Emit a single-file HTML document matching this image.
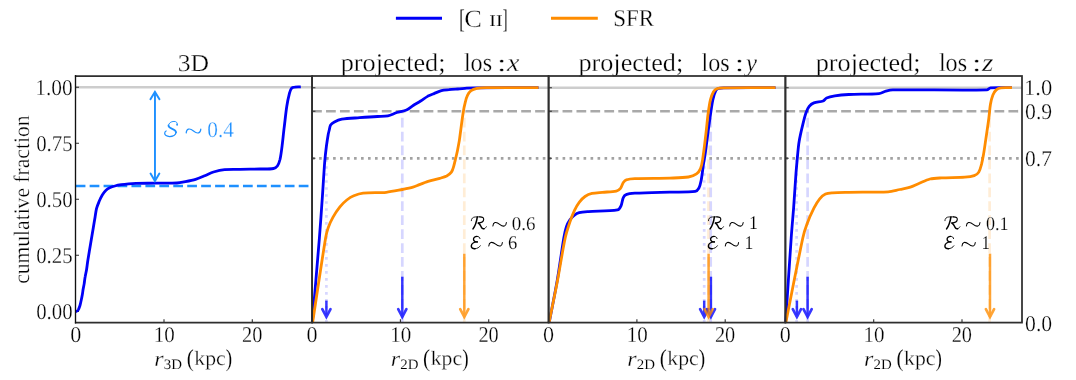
<!DOCTYPE html>
<html><head><meta charset="utf-8"><title>cumulative fraction</title>
<style>html,body{margin:0;padding:0;background:#fff}body{width:1076px;height:380px;overflow:hidden;font-family:"Liberation Serif",serif}</style></head>
<body>
<svg width="1076" height="380" viewBox="0 0 1076 380" style="display:block;will-change:transform">
<rect width="1076" height="380" fill="#fff"/>
<line x1="75.7" x2="312.1" y1="87.2" y2="87.2" stroke="#cdcdcd" stroke-width="2.6"/>
<line x1="312.1" x2="1022.0" y1="87.74" y2="87.74" stroke="#cdcdcd" stroke-width="2.6"/>
<line x1="312.1" x2="548.6" y1="111.25" y2="111.25" stroke="#a9a9a9" stroke-width="2.7" stroke-dasharray="9.73 4.21"/>
<line x1="312.1" x2="548.6" y1="158.3" y2="158.3" stroke="#a2a2a2" stroke-width="2.8" stroke-dasharray="2.63 4.36"/>
<line x1="548.6" x2="785.4" y1="111.25" y2="111.25" stroke="#a9a9a9" stroke-width="2.7" stroke-dasharray="9.73 4.21"/>
<line x1="548.6" x2="785.4" y1="158.3" y2="158.3" stroke="#a2a2a2" stroke-width="2.8" stroke-dasharray="2.63 4.36"/>
<line x1="785.4" x2="1022.0" y1="111.25" y2="111.25" stroke="#a9a9a9" stroke-width="2.7" stroke-dasharray="9.73 4.21"/>
<line x1="785.4" x2="1022.0" y1="158.3" y2="158.3" stroke="#a2a2a2" stroke-width="2.8" stroke-dasharray="2.63 4.36"/>
<line x1="75.7" x2="312.1" y1="186.0" y2="186.0" stroke="#1e90ff" stroke-width="2.7" stroke-dasharray="9.73 4.21"/>
<line x1="326.4" x2="326.4" y1="322.6" y2="158.3" stroke="#0000ff" stroke-opacity="0.16" stroke-width="2.7" stroke-dasharray="2.63 4.36"/>
<line x1="402.3" x2="402.3" y1="322.6" y2="111.2" stroke="#0000ff" stroke-opacity="0.16" stroke-width="2.7" stroke-dasharray="9.73 4.21"/>
<line x1="464.3" x2="464.3" y1="322.6" y2="111.2" stroke="#ff8c00" stroke-opacity="0.16" stroke-width="2.7" stroke-dasharray="9.73 4.21"/>
<line x1="704.2" x2="704.2" y1="322.6" y2="158.3" stroke="#0000ff" stroke-opacity="0.16" stroke-width="2.7" stroke-dasharray="2.63 4.36"/>
<line x1="710.7" x2="710.7" y1="322.6" y2="111.2" stroke="#0000ff" stroke-opacity="0.16" stroke-width="2.7" stroke-dasharray="9.73 4.21"/>
<line x1="708.5" x2="708.5" y1="322.6" y2="111.2" stroke="#ff8c00" stroke-opacity="0.16" stroke-width="2.7" stroke-dasharray="9.73 4.21"/>
<line x1="796.6" x2="796.6" y1="322.6" y2="158.3" stroke="#0000ff" stroke-opacity="0.16" stroke-width="2.7" stroke-dasharray="2.63 4.36"/>
<line x1="807.6" x2="807.6" y1="322.6" y2="111.2" stroke="#0000ff" stroke-opacity="0.16" stroke-width="2.7" stroke-dasharray="9.73 4.21"/>
<line x1="989.6" x2="989.6" y1="322.6" y2="111.2" stroke="#ff8c00" stroke-opacity="0.16" stroke-width="2.7" stroke-dasharray="9.73 4.21"/>
<path d="M75.7,311.4 h3.3 M75.7,255.3 h3.3 M75.7,199.3 h3.3 M75.7,143.2 h3.3 M75.7,87.2 h3.3 M312.1,87.7 h3.3 M312.1,111.2 h3.3 M312.1,158.2 h3.3 M548.6,87.7 h3.3 M548.6,111.2 h3.3 M548.6,158.2 h3.3 M785.4,87.7 h3.3 M785.4,111.2 h3.3 M785.4,158.2 h3.3 M164.0,322.6 v-3.3 M252.3,322.6 v-3.3 M400.4,322.6 v-3.3 M488.7,322.6 v-3.3 M636.9,322.6 v-3.3 M725.2,322.6 v-3.3 M873.7,322.6 v-3.3 M962.0,322.6 v-3.3" stroke="#2e2e2e" stroke-width="1.1" fill="none"/>
<path d="M75.7,311.6 C76.2,311.4 76.8,311.3 77.2,311.0 C77.6,310.7 78.1,310.1 78.4,309.6 C79.0,308.5 79.5,307.0 79.9,305.8 C80.4,304.2 80.8,302.0 81.2,300.3 C81.6,298.7 82.0,296.5 82.3,294.8 C82.6,293.4 82.8,291.4 83.0,290.0 C83.3,288.1 83.9,285.5 84.2,283.6 C84.5,281.5 84.8,278.6 85.2,276.5 C85.5,274.5 86.2,272.0 86.5,270.0 C87.0,267.0 87.4,262.9 87.9,259.9 C88.7,255.1 89.8,248.6 90.6,243.8 C91.4,239.0 92.5,232.5 93.3,227.7 C93.8,224.5 94.6,220.1 95.1,216.9 C95.5,214.4 95.9,211.0 96.5,208.6 C97.1,206.3 98.3,203.5 99.2,201.3 C100.0,199.3 101.2,196.7 102.3,194.9 C103.2,193.4 104.7,191.4 106.0,190.2 C107.0,189.3 108.5,188.4 109.7,187.8 C111.2,187.1 113.3,186.4 114.9,186.0 C116.8,185.5 119.4,185.0 121.3,184.7 C123.5,184.4 126.4,184.1 128.6,183.9 C130.8,183.7 133.8,183.5 136.0,183.4 C141.8,183.2 149.6,183.3 155.5,183.2 C161.9,183.1 170.5,183.3 176.9,183.0 C179.5,182.9 182.9,182.1 185.4,181.6 C188.5,181.0 192.6,180.2 195.6,179.3 C198.4,178.5 202.0,176.9 204.7,175.8 C207.4,174.7 210.8,172.9 213.5,172.0 C216.8,171.0 221.2,169.9 224.6,169.6 C229.2,169.1 235.4,169.4 240.0,169.3 C246.0,169.2 254.0,169.1 260.0,169.0 C264.1,168.9 269.5,169.2 273.5,168.5 C274.9,168.3 276.6,167.1 277.4,166.0 C278.6,164.3 279.5,161.5 280.0,159.5 C280.9,155.5 281.6,149.9 282.1,145.8 C282.8,140.3 283.5,132.9 284.2,127.4 C285.0,121.1 285.8,112.6 286.8,106.3 C287.4,102.3 288.5,97.1 289.5,93.2 C289.9,91.6 290.5,89.4 291.6,88.2 C292.2,87.4 293.7,87.2 294.7,87.1 C296.5,86.8 299.0,87.0 300.8,86.9" fill="none" stroke="#0000f8" stroke-width="2.8" stroke-linejoin="round" stroke-linecap="butt"/>
<path d="M312.3,322.6 C314.4,297.2 317.4,263.4 319.4,238.0 C320.4,225.6 321.5,209.0 322.4,196.5 C323.1,186.2 323.9,172.3 324.7,162.0 C325.1,157.3 325.8,151.0 326.4,146.3 C326.9,142.7 327.6,138.0 328.2,134.5 C328.4,133.2 328.9,131.6 329.2,130.3 C329.6,128.7 329.7,126.5 330.6,125.1 C331.4,123.8 333.1,122.6 334.4,121.9 C336.5,120.8 339.5,119.6 341.8,119.2 C347.1,118.3 354.3,118.1 359.6,117.7 C365.0,117.3 372.1,116.8 377.5,116.5 C380.6,116.3 384.8,116.5 387.9,115.9 C390.7,115.3 394.1,113.4 396.8,112.5 C399.7,111.6 403.7,111.2 406.5,110.0 C408.7,109.0 411.2,106.8 413.2,105.5 C415.4,104.1 418.4,102.4 420.6,101.0 C422.8,99.6 425.7,97.4 428.0,96.1 C429.7,95.2 432.2,94.3 434.0,93.6 C436.2,92.7 439.1,91.2 441.4,90.6 C443.6,90.0 446.6,89.9 448.9,89.7 C451.6,89.4 455.1,89.2 457.8,89.0 C460.5,88.8 464.0,88.4 466.7,88.2 C469.8,88.0 473.8,87.8 476.9,87.8 C495.4,87.7 520.0,87.7 538.5,87.7" fill="none" stroke="#0000f8" stroke-width="2.8" stroke-linejoin="round" stroke-linecap="butt"/>
<path d="M312.6,322.6 C316.5,297.2 321.4,263.3 325.6,238.0 C326.1,234.9 327.1,230.8 328.2,227.8 C329.3,224.6 331.2,220.4 332.9,217.4 C334.7,214.1 337.5,209.9 339.9,206.9 C341.7,204.6 344.5,201.8 346.8,200.0 C348.7,198.5 351.5,196.7 353.8,195.8 C356.5,194.7 360.2,193.5 363.1,193.2 C370.0,192.5 379.4,192.9 386.3,192.3 C391.2,191.8 397.7,190.4 402.6,189.5 C405.7,188.9 409.9,188.1 413.0,187.2 C414.8,186.7 417.1,185.6 418.8,184.9 C421.6,183.8 425.3,182.3 428.1,181.4 C431.6,180.3 436.3,179.3 439.8,178.3 C441.9,177.7 444.8,177.0 446.7,176.0 C448.3,175.1 450.3,173.6 451.4,172.1 C452.5,170.6 453.2,168.1 453.7,166.3 C454.5,163.6 455.3,159.8 456.0,157.0 C456.5,154.9 457.2,152.1 457.6,150.0 C458.2,146.8 459.0,142.6 459.5,139.4 C460.6,131.7 461.8,121.5 463.0,113.8 C463.5,110.3 464.4,105.6 465.3,102.2 C465.8,100.1 466.6,97.2 467.6,95.2 C468.4,93.6 469.7,91.6 471.1,90.6 C472.6,89.5 475.1,88.7 476.9,88.3 C479.6,87.8 483.4,87.7 486.2,87.7 C501.9,87.5 522.8,87.7 538.5,87.7" fill="none" stroke="#ff8c00" stroke-width="2.8" stroke-linejoin="round" stroke-linecap="butt"/>
<path d="M549.2,322.6 C551.6,309.8 555.1,292.8 557.3,280.0 C559.5,267.4 561.7,250.6 563.8,238.0 C564.4,234.6 565.3,230.0 566.4,226.7 C567.1,224.5 568.6,221.6 569.9,219.7 C571.0,218.1 572.9,216.3 574.5,215.1 C575.8,214.1 577.7,213.1 579.2,212.7 C581.9,212.0 585.7,211.8 588.5,211.6 C597.2,211.0 608.9,211.4 617.5,209.9 C619.1,209.6 620.3,207.3 621.0,205.8 C622.1,203.5 622.2,199.9 623.3,197.6 C623.8,196.5 624.9,195.0 626.1,194.6 C628.6,193.7 632.2,193.4 634.9,193.2 C645.4,192.6 659.3,192.4 669.8,192.1 C677.4,191.9 687.7,192.4 695.3,191.4 C696.7,191.2 698.1,189.5 698.8,188.3 C700.0,186.1 700.7,182.7 701.2,180.2 C702.1,175.4 702.8,168.8 703.5,163.9 C703.9,161.2 704.6,157.7 705.0,155.0 C706.4,145.4 707.9,132.6 709.3,123.0 C710.3,116.1 711.4,106.8 712.8,99.9 C713.4,97.0 714.5,93.2 715.8,90.6 C716.3,89.6 717.6,88.6 718.6,88.3 C720.4,87.7 723.1,87.8 725.0,87.8 C740.1,87.6 760.4,87.7 775.5,87.7" fill="none" stroke="#0000f8" stroke-width="2.8" stroke-linejoin="round" stroke-linecap="butt"/>
<path d="M549.1,322.6 C551.6,309.8 555.2,292.8 557.6,280.0 C560.0,267.4 562.5,250.5 565.2,238.0 C566.2,233.1 568.3,226.7 569.9,222.0 C571.1,218.5 572.9,213.8 574.5,210.4 C575.7,207.9 577.5,204.5 579.2,202.3 C580.7,200.3 583.0,197.9 585.0,196.5 C586.9,195.2 589.8,193.9 592.0,193.4 C595.0,192.7 599.3,192.6 602.4,192.3 C606.6,191.9 612.2,192.0 616.3,191.1 C617.8,190.8 619.5,189.5 620.5,188.3 C621.7,186.8 622.2,184.1 623.3,182.5 C624.1,181.4 625.5,180.1 626.8,179.7 C629.1,178.9 632.4,178.7 634.9,178.6 C645.4,178.2 659.3,178.4 669.8,178.1 C675.4,177.9 682.9,177.9 688.4,177.0 C691.0,176.6 694.4,175.4 696.5,173.9 C698.1,172.8 699.7,170.4 700.5,168.6 C701.6,166.0 702.2,162.3 702.6,159.6 C703.8,152.2 704.9,142.2 705.8,134.7 C706.6,128.4 707.3,120.1 708.1,113.8 C708.7,109.6 709.4,104.0 710.4,99.9 C711.0,97.3 712.2,94.0 713.5,91.7 C714.1,90.6 715.5,89.2 716.7,88.7 C718.5,88.0 721.2,87.8 723.2,87.8 C738.9,87.5 759.8,87.7 775.5,87.7" fill="none" stroke="#ff8c00" stroke-width="2.8" stroke-linejoin="round" stroke-linecap="butt"/>
<path d="M785.6,322.6 C787.3,297.2 789.4,263.4 791.2,238.0 C791.8,229.0 792.9,217.1 793.6,208.1 C794.4,197.6 795.2,183.7 796.0,173.2 C796.4,167.7 797.1,160.5 797.6,155.0 C798.0,151.0 798.4,145.7 799.1,141.7 C799.9,136.8 801.4,130.3 802.6,125.4 C803.5,121.6 804.7,116.4 806.0,112.7 C806.7,110.7 807.9,108.1 809.2,106.4 C810.3,105.0 812.3,103.5 813.9,102.9 C816.5,101.9 820.5,102.0 823.1,101.0 C824.4,100.5 825.3,98.6 826.6,98.0 C828.9,97.0 832.3,96.3 834.8,95.9 C838.9,95.2 844.5,94.7 848.7,94.5 C857.8,94.0 869.9,94.4 878.9,93.6 C881.1,93.4 883.7,91.7 885.9,91.1 C887.9,90.6 890.7,89.9 892.8,89.9 C921.0,89.6 958.7,90.5 986.9,89.9 C988.1,89.9 989.2,88.0 990.4,87.9 C996.9,87.3 1005.5,87.8 1012.0,87.7" fill="none" stroke="#0000f8" stroke-width="2.8" stroke-linejoin="round" stroke-linecap="butt"/>
<path d="M785.8,322.6 C790.9,297.2 797.4,263.3 802.8,238.0 C803.7,233.8 805.4,228.3 806.9,224.3 C808.7,219.3 811.5,212.8 813.9,208.1 C815.4,205.2 817.6,201.3 819.7,198.8 C821.1,197.1 823.5,195.1 825.5,194.1 C827.4,193.2 830.3,193.0 832.4,192.8 C837.3,192.4 843.8,192.4 848.7,192.3 C860.5,192.1 876.4,192.4 888.2,191.8 C891.7,191.6 896.3,190.2 899.8,189.5 C903.0,188.8 907.2,188.2 910.3,187.2 C912.8,186.4 916.0,184.7 918.4,183.7 C921.9,182.3 926.4,179.9 930.0,179.0 C933.4,178.2 938.1,178.1 941.6,177.9 C948.6,177.5 957.9,177.7 964.9,177.2 C967.7,177.0 971.5,176.6 974.2,175.6 C975.8,175.0 977.9,173.6 978.8,172.1 C980.2,169.9 980.9,166.4 981.6,163.9 C982.3,161.1 983.0,157.4 983.5,154.6 C984.3,150.1 985.1,144.0 985.8,139.4 C986.7,133.1 988.0,124.8 988.8,118.5 C989.4,114.3 989.7,108.7 990.4,104.5 C990.9,101.7 991.7,97.9 992.8,95.2 C993.5,93.4 994.8,91.2 996.2,89.9 C997.3,88.9 999.4,88.0 1000.9,87.8 C1004.2,87.3 1008.7,87.7 1012.0,87.7" fill="none" stroke="#ff8c00" stroke-width="2.8" stroke-linejoin="round" stroke-linecap="butt"/>
<g stroke="#0000ff" opacity="0.78" stroke-width="2.7" fill="none" stroke-linecap="round" stroke-linejoin="miter" stroke-miterlimit="10"><path d="M326.4,300.6 L326.4,316.8" stroke-width="2.5" stroke-linecap="butt"/><path d="M322.29999999999995,309.2 L326.4,316.8 L330.5,309.2"/></g>
<g stroke="#0000ff" opacity="0.78" stroke-width="2.7" fill="none" stroke-linecap="round" stroke-linejoin="miter" stroke-miterlimit="10"><path d="M402.3,276.7 L402.3,316.8" stroke-width="2.5" stroke-linecap="butt"/><path d="M398.2,309.2 L402.3,316.8 L406.40000000000003,309.2"/></g>
<g stroke="#ff8c00" opacity="0.78" stroke-width="2.7" fill="none" stroke-linecap="round" stroke-linejoin="miter" stroke-miterlimit="10"><path d="M464.3,253.6 L464.3,316.8" stroke-width="2.5" stroke-linecap="butt"/><path d="M460.2,309.2 L464.3,316.8 L468.40000000000003,309.2"/></g>
<g stroke="#0000ff" opacity="0.78" stroke-width="2.7" fill="none" stroke-linecap="round" stroke-linejoin="miter" stroke-miterlimit="10"><path d="M704.2,300.6 L704.2,316.8" stroke-width="2.5" stroke-linecap="butt"/><path d="M700.1,309.2 L704.2,316.8 L708.3000000000001,309.2"/></g>
<g stroke="#0000ff" opacity="0.78" stroke-width="2.7" fill="none" stroke-linecap="round" stroke-linejoin="miter" stroke-miterlimit="10"><path d="M710.9,276.7 L710.9,316.8" stroke-width="2.5" stroke-linecap="butt"/><path d="M706.8,309.2 L710.9,316.8 L715.0,309.2"/></g>
<g stroke="#ff8c00" opacity="0.78" stroke-width="2.7" fill="none" stroke-linecap="round" stroke-linejoin="miter" stroke-miterlimit="10"><path d="M708.6,253.6 L708.6,316.8" stroke-width="2.5" stroke-linecap="butt"/><path d="M704.5,309.2 L708.6,316.8 L712.7,309.2"/></g>
<g stroke="#0000ff" opacity="0.78" stroke-width="2.7" fill="none" stroke-linecap="round" stroke-linejoin="miter" stroke-miterlimit="10"><path d="M796.9,300.6 L796.9,316.8" stroke-width="2.5" stroke-linecap="butt"/><path d="M792.8,309.2 L796.9,316.8 L801.0,309.2"/></g>
<g stroke="#0000ff" opacity="0.78" stroke-width="2.7" fill="none" stroke-linecap="round" stroke-linejoin="miter" stroke-miterlimit="10"><path d="M807.6,276.7 L807.6,316.8" stroke-width="2.5" stroke-linecap="butt"/><path d="M803.5,309.2 L807.6,316.8 L811.7,309.2"/></g>
<g stroke="#ff8c00" opacity="0.78" stroke-width="2.7" fill="none" stroke-linecap="round" stroke-linejoin="miter" stroke-miterlimit="10"><path d="M990.0,253.6 L990.0,316.8" stroke-width="2.5" stroke-linecap="butt"/><path d="M985.9,309.2 L990.0,316.8 L994.1,309.2"/></g>
<g stroke="#1e90ff" stroke-width="1.95" fill="none" stroke-linecap="round" stroke-linejoin="miter" stroke-miterlimit="10"><path d="M154.95,92 L154.95,181" stroke-linecap="butt"/><path d="M150.45,99.2 L154.95,91.9 L159.45,99.2"/><path d="M150.54999999999998,173.5 L154.95,181.1 L159.35,173.5"/></g>
<g font-family="'Liberation Serif', serif" stroke="#fff" stroke-width="0.28" text-rendering="geometricPrecision">
<text transform="translate(36.16,319.36) scale(0.923,1)" font-size="22.65" fill="#000">0.00</text>
<text transform="translate(36.16,263.31) scale(0.923,1)" font-size="22.65" fill="#000">0.25</text>
<text transform="translate(36.16,207.26) scale(0.923,1)" font-size="22.65" fill="#000">0.50</text>
<text transform="translate(36.16,151.21) scale(0.923,1)" font-size="22.65" fill="#000">0.75</text>
<text transform="translate(35.17,95.16) scale(0.948,1)" font-size="22.65" fill="#000">1.00</text>
<text transform="translate(1023.98,95.46) scale(1.003,1)" font-size="22.50" fill="#000">1.0</text>
<text transform="translate(1025.03,119.36) scale(0.965,1)" font-size="22.50" fill="#000">0.9</text>
<text transform="translate(1025.04,166.36) scale(0.957,1)" font-size="22.50" fill="#000">0.7</text>
<text transform="translate(1025.03,331.06) scale(0.959,1)" font-size="22.65" fill="#000">0.0</text>
<text transform="translate(70.16,341.87) scale(0.977,1)" font-size="22.67" fill="#000">0</text>
<text transform="translate(153.81,341.58) scale(0.946,1)" font-size="22.22" fill="#000">10</text>
<text transform="translate(241.99,341.77) scale(0.903,1)" font-size="22.52" fill="#000">20</text>
<text transform="translate(306.56,341.87) scale(0.977,1)" font-size="22.67" fill="#000">0</text>
<text transform="translate(390.21,341.58) scale(0.946,1)" font-size="22.22" fill="#000">10</text>
<text transform="translate(478.39,341.77) scale(0.903,1)" font-size="22.52" fill="#000">20</text>
<text transform="translate(543.06,341.87) scale(0.977,1)" font-size="22.67" fill="#000">0</text>
<text transform="translate(626.71,341.58) scale(0.946,1)" font-size="22.22" fill="#000">10</text>
<text transform="translate(714.89,341.77) scale(0.903,1)" font-size="22.52" fill="#000">20</text>
<text transform="translate(779.86,341.87) scale(0.977,1)" font-size="22.67" fill="#000">0</text>
<text transform="translate(863.51,341.58) scale(0.946,1)" font-size="22.22" fill="#000">10</text>
<text transform="translate(951.69,341.77) scale(0.903,1)" font-size="22.52" fill="#000">20</text>
<text transform="translate(177.74,70.66) scale(1.056,1)" font-size="24.33" fill="#000">3D</text>
<text transform="translate(340.71,70.50) scale(1.024,1)" font-size="25.60" fill="#000">projected;</text>
<text transform="translate(463.92,70.74) scale(0.929,1)" font-size="25.96" fill="#000">los</text>
<text transform="translate(497.09,70.64) scale(1.406,1)" font-size="24.12" fill="#000">:</text>
<text transform="translate(507.12,70.80) scale(1.082,1)" font-size="25.87" fill="#000" font-style="italic">x</text>
<text transform="translate(578.41,70.50) scale(1.024,1)" font-size="25.60" fill="#000">projected;</text>
<text transform="translate(701.62,70.74) scale(0.929,1)" font-size="25.96" fill="#000">los</text>
<text transform="translate(734.79,70.64) scale(1.406,1)" font-size="24.12" fill="#000">:</text>
<text transform="translate(746.00,70.55) scale(0.976,1)" font-size="25.33" fill="#000" font-style="italic">y</text>
<text transform="translate(815.71,70.50) scale(1.024,1)" font-size="25.60" fill="#000">projected;</text>
<text transform="translate(938.92,70.74) scale(0.929,1)" font-size="25.96" fill="#000">los</text>
<text transform="translate(972.09,70.64) scale(1.406,1)" font-size="24.12" fill="#000">:</text>
<text transform="translate(981.99,70.80) scale(1.135,1)" font-size="25.87" fill="#000" font-style="italic">z</text>
<text transform="translate(154.24,365.60) scale(1.106,1)" font-size="21.70" fill="#000" font-style="italic">r</text>
<text transform="translate(163.73,368.66) scale(1.030,1)" font-size="14.48" fill="#000" stroke-width="0.1">3D</text>
<text transform="translate(186.65,365.93) scale(0.880,1)" font-size="24.07" fill="#000" stroke-width="0.15">(</text>
<text transform="translate(194.27,364.88) scale(1.057,1)" font-size="20.55" fill="#000">kpc</text>
<text transform="translate(225.72,365.93) scale(0.799,1)" font-size="24.07" fill="#000" stroke-width="0.15">)</text>
<text transform="translate(390.69,365.60) scale(1.106,1)" font-size="21.70" fill="#000" font-style="italic">r</text>
<text transform="translate(400.18,368.60) scale(1.036,1)" font-size="14.39" fill="#000" stroke-width="0.1">2D</text>
<text transform="translate(423.10,365.93) scale(0.880,1)" font-size="24.07" fill="#000" stroke-width="0.15">(</text>
<text transform="translate(430.72,364.88) scale(1.057,1)" font-size="20.55" fill="#000">kpc</text>
<text transform="translate(462.17,365.93) scale(0.799,1)" font-size="24.07" fill="#000" stroke-width="0.15">)</text>
<text transform="translate(627.34,365.60) scale(1.106,1)" font-size="21.70" fill="#000" font-style="italic">r</text>
<text transform="translate(636.83,368.60) scale(1.036,1)" font-size="14.39" fill="#000" stroke-width="0.1">2D</text>
<text transform="translate(659.75,365.93) scale(0.880,1)" font-size="24.07" fill="#000" stroke-width="0.15">(</text>
<text transform="translate(667.37,364.88) scale(1.057,1)" font-size="20.55" fill="#000">kpc</text>
<text transform="translate(698.82,365.93) scale(0.799,1)" font-size="24.07" fill="#000" stroke-width="0.15">)</text>
<text transform="translate(864.04,365.60) scale(1.106,1)" font-size="21.70" fill="#000" font-style="italic">r</text>
<text transform="translate(873.53,368.60) scale(1.036,1)" font-size="14.39" fill="#000" stroke-width="0.1">2D</text>
<text transform="translate(896.45,365.93) scale(0.880,1)" font-size="24.07" fill="#000" stroke-width="0.15">(</text>
<text transform="translate(904.07,364.88) scale(1.057,1)" font-size="20.55" fill="#000">kpc</text>
<text transform="translate(935.52,365.93) scale(0.799,1)" font-size="24.07" fill="#000" stroke-width="0.15">)</text>
<text transform="translate(28.9,283.86) rotate(-90) scale(0.975,1)" font-size="22.13" fill="#000">cumulative fraction</text>
<text transform="translate(459.27,27.89) scale(0.612,1)" font-size="26.75" fill="#000" stroke-width="0.1">[</text>
<text transform="translate(464.15,26.65) scale(1.056,1)" font-size="24.93" fill="#000">C</text>
<text transform="translate(489.31,26.20) scale(1.203,1)" font-size="16.49" fill="#000" stroke-width="0.1">II</text>
<text transform="translate(502.70,27.89) scale(0.532,1)" font-size="26.75" fill="#000" stroke-width="0.1">]</text>
<text transform="translate(613.21,26.36) scale(0.951,1)" font-size="24.18" fill="#000">SFR</text>
<text transform="translate(207.25,137.06) scale(0.955,1)" font-size="22.35" fill="#1e90ff">0.4</text>
<text transform="translate(511.74,229.51) scale(0.978,1)" font-size="19.41" fill="#000" stroke-width="0.2">0.6</text>
<text transform="translate(507.96,249.40) scale(0.952,1)" font-size="19.55" fill="#000" stroke-width="0.2">6</text>
<text transform="translate(749.09,229.30) scale(0.922,1)" font-size="19.24" fill="#000" stroke-width="0.15">1</text>
<text transform="translate(744.59,249.20) scale(0.922,1)" font-size="19.24" fill="#000" stroke-width="0.15">1</text>
<text transform="translate(985.98,229.51) scale(0.932,1)" font-size="19.41" fill="#000" stroke-width="0.2">0.1</text>
<text transform="translate(981.46,249.20) scale(0.878,1)" font-size="19.24" fill="#000" stroke-width="0.15">1</text>
</g>
<path d="M74.9,76.0 H312.1 V322.6 H74.9" fill="none" stroke="#2e2e2e" stroke-width="1.75"/>
<line x1="75.5" x2="75.5" y1="75.13" y2="323.47" stroke="#111" stroke-width="1.35"/>
<rect x="312.1" y="76.0" width="236.5" height="246.6" fill="none" stroke="#2e2e2e" stroke-width="1.75"/>
<rect x="548.6" y="76.0" width="236.8" height="246.6" fill="none" stroke="#2e2e2e" stroke-width="1.75"/>
<rect x="785.4" y="76.0" width="236.6" height="246.6" fill="none" stroke="#2e2e2e" stroke-width="1.75"/>
<g transform="translate(470.70,216.50) scale(1.000,1.000)" fill="none" stroke="#000" stroke-linecap="round" stroke-linejoin="round">
<path d="M0.6,4.2 C0.6,2.0 2.2,0.5 4.6,0.45 L9.1,0.35" stroke-width="0.85"/>
<path d="M9.1,0.35 C11.8,0.3 13.1,1.3 13.0,2.9 C12.9,4.9 10.5,6.3 7.4,6.5" stroke-width="1.10"/>
<path d="M6.6,0.5 C6.0,4.6 4.6,9.2 2.3,12.4" stroke-width="1.55"/>
<path d="M7.6,6.5 C9.2,7.2 9.9,9.0 10.6,10.6 C11.2,11.9 12.4,12.5 13.4,12.2" stroke-width="1.45"/>
<path d="M13.4,12.2 C14.6,11.8 15.3,11.0 15.7,10.2" stroke-width="0.80"/>
</g>
<g transform="translate(470.70,236.00) scale(1.000,1.000)" fill="none" stroke="#000" stroke-linecap="round" stroke-linejoin="round">
<path d="M9.3,2.6 C9.2,1.2 8.0,0.4 6.3,0.4" stroke-width="0.90"/>
<path d="M6.3,0.4 C4.2,0.4 2.7,1.7 2.8,3.2 C2.9,4.8 4.4,5.8 6.6,5.9" stroke-width="1.35"/>
<path d="M6.6,5.9 C3.6,6.0 0.7,7.6 0.6,10.0 C0.5,11.9 2.2,12.8 4.3,12.7" stroke-width="1.45"/>
<path d="M4.3,12.7 C6.6,12.6 8.6,11.4 9.6,9.8" stroke-width="0.90"/>
</g>
<g transform="translate(707.80,216.50) scale(1.000,1.000)" fill="none" stroke="#000" stroke-linecap="round" stroke-linejoin="round">
<path d="M0.6,4.2 C0.6,2.0 2.2,0.5 4.6,0.45 L9.1,0.35" stroke-width="0.85"/>
<path d="M9.1,0.35 C11.8,0.3 13.1,1.3 13.0,2.9 C12.9,4.9 10.5,6.3 7.4,6.5" stroke-width="1.10"/>
<path d="M6.6,0.5 C6.0,4.6 4.6,9.2 2.3,12.4" stroke-width="1.55"/>
<path d="M7.6,6.5 C9.2,7.2 9.9,9.0 10.6,10.6 C11.2,11.9 12.4,12.5 13.4,12.2" stroke-width="1.45"/>
<path d="M13.4,12.2 C14.6,11.8 15.3,11.0 15.7,10.2" stroke-width="0.80"/>
</g>
<g transform="translate(707.80,236.00) scale(1.000,1.000)" fill="none" stroke="#000" stroke-linecap="round" stroke-linejoin="round">
<path d="M9.3,2.6 C9.2,1.2 8.0,0.4 6.3,0.4" stroke-width="0.90"/>
<path d="M6.3,0.4 C4.2,0.4 2.7,1.7 2.8,3.2 C2.9,4.8 4.4,5.8 6.6,5.9" stroke-width="1.35"/>
<path d="M6.6,5.9 C3.6,6.0 0.7,7.6 0.6,10.0 C0.5,11.9 2.2,12.8 4.3,12.7" stroke-width="1.45"/>
<path d="M4.3,12.7 C6.6,12.6 8.6,11.4 9.6,9.8" stroke-width="0.90"/>
</g>
<g transform="translate(944.30,216.50) scale(1.000,1.000)" fill="none" stroke="#000" stroke-linecap="round" stroke-linejoin="round">
<path d="M0.6,4.2 C0.6,2.0 2.2,0.5 4.6,0.45 L9.1,0.35" stroke-width="0.85"/>
<path d="M9.1,0.35 C11.8,0.3 13.1,1.3 13.0,2.9 C12.9,4.9 10.5,6.3 7.4,6.5" stroke-width="1.10"/>
<path d="M6.6,0.5 C6.0,4.6 4.6,9.2 2.3,12.4" stroke-width="1.55"/>
<path d="M7.6,6.5 C9.2,7.2 9.9,9.0 10.6,10.6 C11.2,11.9 12.4,12.5 13.4,12.2" stroke-width="1.45"/>
<path d="M13.4,12.2 C14.6,11.8 15.3,11.0 15.7,10.2" stroke-width="0.80"/>
</g>
<g transform="translate(944.30,236.00) scale(1.000,1.000)" fill="none" stroke="#000" stroke-linecap="round" stroke-linejoin="round">
<path d="M9.3,2.6 C9.2,1.2 8.0,0.4 6.3,0.4" stroke-width="0.90"/>
<path d="M6.3,0.4 C4.2,0.4 2.7,1.7 2.8,3.2 C2.9,4.8 4.4,5.8 6.6,5.9" stroke-width="1.35"/>
<path d="M6.6,5.9 C3.6,6.0 0.7,7.6 0.6,10.0 C0.5,11.9 2.2,12.8 4.3,12.7" stroke-width="1.45"/>
<path d="M4.3,12.7 C6.6,12.6 8.6,11.4 9.6,9.8" stroke-width="0.90"/>
</g>
<path d="M492.90,226.03 C493.17,222.23 495.87,221.20 499.65,224.30 S506.13,226.37 506.40,222.58" fill="none" stroke="#000" stroke-width="1.05" stroke-linecap="round"/>
<path d="M488.80,245.92 C489.07,242.13 491.79,241.09 495.60,244.20 S502.13,246.27 502.40,242.47" fill="none" stroke="#000" stroke-width="1.05" stroke-linecap="round"/>
<path d="M729.70,226.03 C729.97,222.23 732.67,221.20 736.45,224.30 S742.93,226.37 743.20,222.58" fill="none" stroke="#000" stroke-width="1.05" stroke-linecap="round"/>
<path d="M725.30,245.92 C725.57,242.13 728.23,241.09 731.95,244.20 S738.33,246.27 738.60,242.47" fill="none" stroke="#000" stroke-width="1.05" stroke-linecap="round"/>
<path d="M966.40,226.03 C966.67,222.23 969.39,221.20 973.20,224.30 S979.73,226.37 980.00,222.58" fill="none" stroke="#000" stroke-width="1.05" stroke-linecap="round"/>
<path d="M962.00,245.92 C962.27,242.13 964.93,241.09 968.65,244.20 S975.03,246.27 975.30,242.47" fill="none" stroke="#000" stroke-width="1.05" stroke-linecap="round"/>
<g transform="translate(164.20,121.00) scale(1.000,1.000)" fill="none" stroke="#1e90ff" stroke-linecap="round" stroke-linejoin="round">
<path d="M12.9,3.9 C13.4,1.6 12.2,0.4 9.8,0.4 C6.8,0.4 4.3,2.2 4.3,4.5" stroke-width="0.95"/>
<path d="M12.9,3.9 L12.95,3.2" stroke-width="1.50"/>
<path d="M4.3,4.5 C4.3,6.3 5.9,7.1 8.0,7.9 C10.3,8.8 11.9,9.6 11.8,11.4" stroke-width="1.80"/>
<path d="M11.8,11.4 C11.6,13.9 8.6,15.5 5.4,15.5 C2.4,15.5 0.4,14.1 0.5,12.2 C0.6,11.0 1.2,10.3 1.9,10.0" stroke-width="1.25"/>
</g>
<path d="M186.20,132.88 C186.49,128.75 189.41,127.62 193.50,131.00 S200.51,133.25 200.80,129.12" fill="none" stroke="#1e90ff" stroke-width="1.2" stroke-linecap="round"/>
<line x1="395.9" x2="442.0" y1="18.3" y2="18.3" stroke="#0000f8" stroke-width="2.9"/>
<line x1="551.0" x2="597.8" y1="18.3" y2="18.3" stroke="#ff8c00" stroke-width="2.9"/>
</svg>
</body></html>
